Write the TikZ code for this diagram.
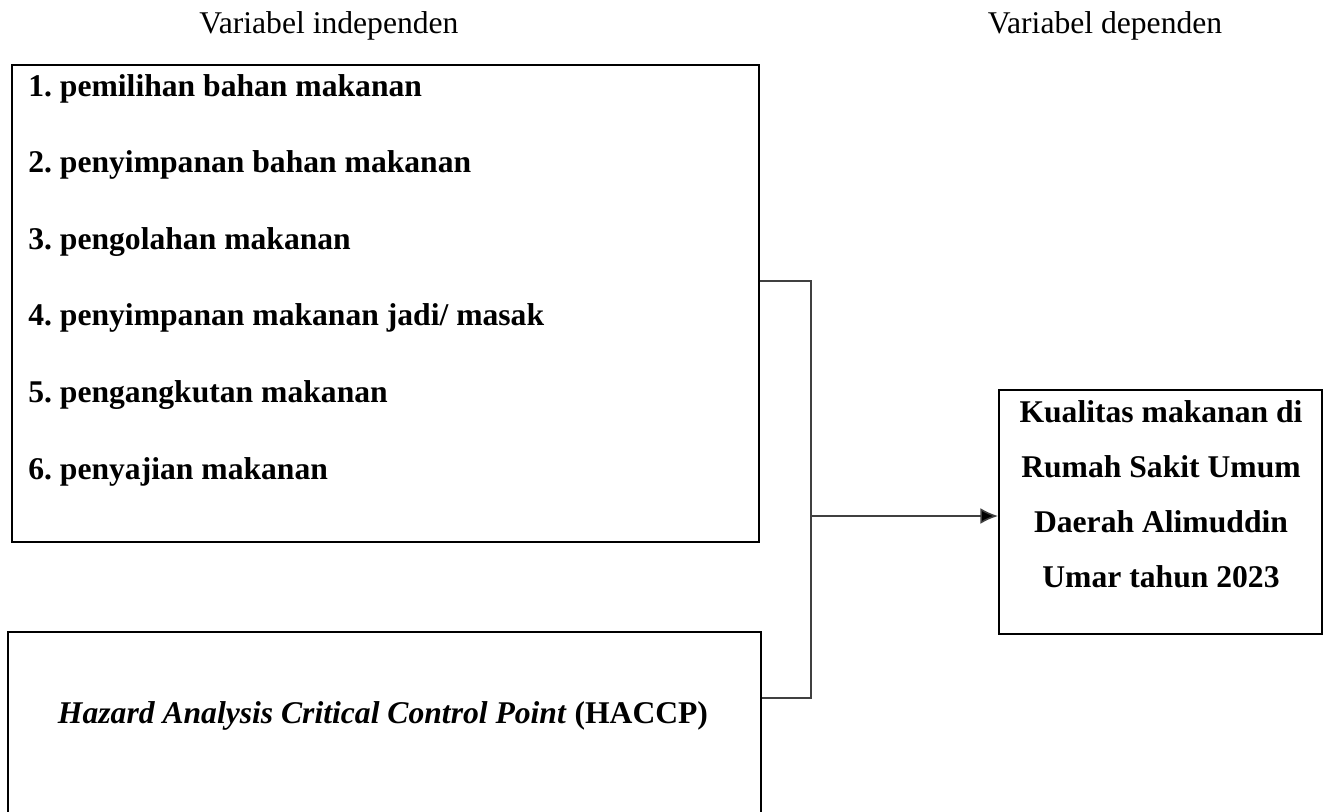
\documentclass[tikz,border=0pt]{standalone}
\usepackage{fontspec}
\setmainfont{Liberation Serif}
\usepackage{tikz}
\usetikzlibrary{arrows.meta}
\frenchspacing

\tikzset{
	varbox/.style={draw=black, line width=1.2pt, rectangle, inner sep=0pt},
	itemtext/.style={font=\fontsize{18}{20}\selectfont\bfseries, inner sep=0pt, anchor=base west},
	deptext/.style={font=\fontsize{18}{20}\selectfont\bfseries, inner sep=0pt, anchor=base},
	headtext/.style={font=\fontsize{18}{20}\selectfont, inner sep=0pt, anchor=base},
	link/.style={draw=black!75, line width=0.9pt},
}

\begin{document}
\begin{tikzpicture}[x=0.02cm, y=-0.02cm]
		%%%%% START %%%%%
		
		\useasboundingbox (0, 0) rectangle (1323, 812);
		
		\node[headtext] (headind) at (329, 33) {Variabel independen};
		\node[headtext] (headdep) at (1105, 33) {Variabel dependen};
		
		\node[varbox, minimum width=14.94cm, minimum height=9.54cm] (boxind) at (385.5, 303.5) {};
		\node[varbox, minimum width=15.06cm, minimum height=4.16cm] (boxhaccp) at (384.5, 736) {};
		\node[varbox, minimum width=6.46cm, minimum height=4.88cm] (boxdep) at (1160.5, 512) {};
		
		\foreach \txt [count=\i] in {pemilihan bahan makanan, penyimpanan bahan makanan, pengolahan makanan, penyimpanan makanan jadi/ masak, pengangkutan makanan, penyajian makanan}
			\node[itemtext] (item\i) at (28, {96 + 76.6*(\i-1)}) {\i. \txt};
		
		\node[deptext] (haccp) at (383, 723) {\textit{Hazard Analysis Critical Control Point} (HACCP)};
		
		\foreach \txt [count=\i] in {Kualitas makanan di, Rumah Sakit Umum, Daerah Alimuddin, Umar tahun 2023}
			\node[deptext] (dep\i) at (1161, {422 + 55*(\i-1)}) {\txt};
		
		\coordinate (jtop) at (811, 281);
		\coordinate (jbot) at (811, 698);
		\coordinate (jmid) at (811, 516);
		
		\draw[link] (boxind.east |- jtop) -- (jtop) -- (jbot) -- (boxhaccp.east |- jbot);
		\draw[link, -{Latex[length=10pt, width=9pt, fill=black]}] (jmid) -- (boxdep.west |- jmid);
		
		%%%%% END %%%%%
	\end{tikzpicture}
\end{document}
